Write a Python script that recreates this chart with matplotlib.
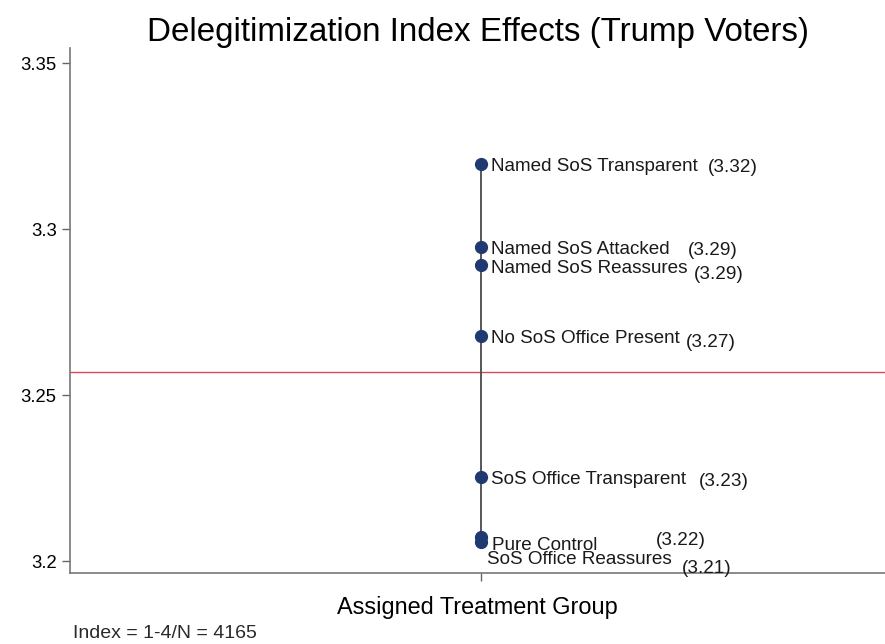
import matplotlib.pyplot as plt

plt.rcParams['font.family'] = ['Liberation Sans', 'DejaVu Sans']

# treatment groups and mean index (Trump voters)
groups = ['Named SoS Transparent', 'Named SoS Attacked', 'Named SoS Reassures',
          'No SoS Office Present', 'SoS Office Transparent', 'Pure Control',
          'SoS Office Reassures']
means = [3.3196, 3.2946, 3.2892, 3.2678, 3.2253, 3.2072, 3.2057]
value_labels = ['(3.32)', '(3.29)', '(3.29)', '(3.27)', '(3.23)', '(3.22)', '(3.21)']
overall_mean = 3.2569
y_ticks = [3.2, 3.25, 3.3, 3.35]
y_tick_labels = ['3.2', '3.25', '3.3', '3.35']

# pixel offsets for the group name and the value text next to each marker
name_offsets = [(10, -2), (10, -2), (10, -3), (10, -2), (10, -2), (11, -8), (6, -17)]
value_offsets = [(227, -3), (207, -3), (213, -9), (205, -6), (218, -4), (175, -3), (201, -26)]

fig = plt.figure(figsize=(8.85, 6.44), dpi=100)
ax = fig.add_axes([0.079, 0.110, 0.921, 0.815])

ax.axhline(overall_mean, color='#d94a5a', lw=1.0, zorder=1)
ax.plot([0, 0], [min(means), max(means)], color='#4a4a4a', lw=1.3, zorder=2)
ax.plot([0] * len(means), means, 'o', color='#1f3a70', ms=8.5, zorder=3)

for g, m, v, no, vo in zip(groups, means, value_labels, name_offsets, value_offsets):
    ax.annotate(g, (0, m), xytext=no, textcoords='offset pixels',
                ha='left', va='center', fontsize=13.6, color='#1a1a1a')
    ax.annotate(v, (0, m), xytext=vo, textcoords='offset pixels',
                ha='left', va='center', fontsize=13.6, color='#1a1a1a')

ax.set_xlim(-1, 0.983)
ax.set_ylim(3.1964, 3.3545)
ax.set_xticks([0])
ax.set_xticklabels([''])
ax.set_yticks(y_ticks)
ax.set_yticklabels(y_tick_labels, fontsize=13.3)
ax.tick_params(axis='both', direction='out', length=6, width=1, color='#666666')

for s in ['top', 'right']:
    ax.spines[s].set_visible(False)
for s in ['left', 'bottom']:
    ax.spines[s].set_color('#777777')
    ax.spines[s].set_linewidth(1.2)

ax.set_xlabel('Assigned Treatment Group', fontsize=16.9, labelpad=7)
ax.set_title('Delegitimization Index Effects (Trump Voters)', fontsize=23.9, pad=3)
fig.text(0.083, 0.003, 'Index = 1-4/N = 4165', fontsize=14, ha='left', va='bottom',
         color='#2a2a2a')

fig.savefig('out.png', dpi=100)
